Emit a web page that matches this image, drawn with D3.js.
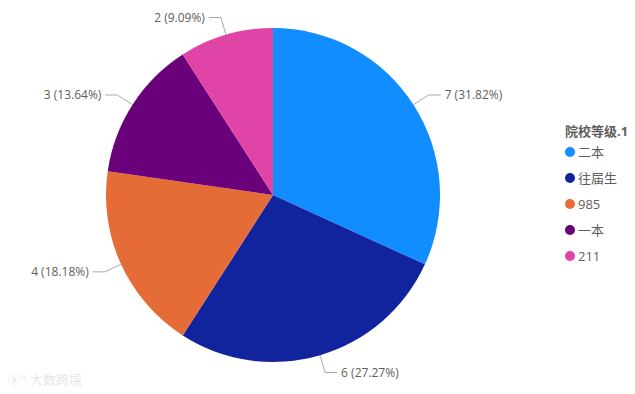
<!DOCTYPE html>
<html>
<head>
<meta charset="utf-8">
<script src="https://cdn.jsdelivr.net/npm/d3@7"></script>
<style>
  body { margin: 0; background: #fff; }
  svg { display: block; font-family: "Segoe UI", "Open Sans", "Noto Sans CJK SC", sans-serif; }
</style>
</head>
<body>
<div id="chart"></div>
<script>
// data
const categories = ["二本", "往届生", "985", "一本", "211"];
const counts = [7, 6, 4, 3, 2];
const colors = ["#118DFF", "#12239E", "#E66C37", "#6B007B", "#E044A7"];
const legendTitle = "院校等级.1";

const width = 635, height = 394;
const cx = 273, cy = 195, radius = 167;

const svg = d3.select("#chart").append("svg")
  .attr("width", width)
  .attr("height", height);

const total = d3.sum(counts);
const rows = categories.map((c, i) => ({name: c, value: counts[i], color: colors[i]}));

const pie = d3.pie().value(d => d.value).sort(null);
const arc = d3.arc().innerRadius(0).outerRadius(radius);
const arcs = pie(rows);

const g = svg.append("g").attr("transform", "translate(" + cx + "," + cy + ")");

g.selectAll("path.slice")
  .data(arcs)
  .enter().append("path")
  .attr("class", "slice")
  .attr("d", arc)
  .attr("fill", d => d.data.color);

// leader lines + labels
function pointAt(a, r) {
  return [Math.sin(a) * r, -Math.cos(a) * r];
}

const labels = g.selectAll("g.lbl").data(arcs).enter().append("g").attr("class", "lbl");

labels.each(function(d) {
  let mid = (d.startAngle + d.endAngle) / 2;
  let p0 = pointAt(mid, radius);
  let p1 = pointAt(mid, radius + 18);
  let right = Math.sin(mid) >= 0;
  let p2 = [p1[0] + (right ? 12 : -12), p1[1]];
  let sel = d3.select(this);
  sel.append("polyline")
    .attr("points", [p0, p1, p2].map(p => p.join(",")).join(" "))
    .attr("fill", "none")
    .attr("stroke", "#a8a8a8")
    .attr("stroke-width", 1);
  let pct = (d.data.value / total * 100).toFixed(2);
  sel.append("text")
    .attr("x", p2[0] + (right ? 4 : -4))
    .attr("y", p2[1])
    .attr("dy", "0.35em")
    .attr("text-anchor", right ? "start" : "end")
    .attr("fill", "#605E5C")
    .style("font-size", "12px")
    .text(d.data.value + " (" + pct + "%)");
});

// legend
const legend = svg.append("g").attr("transform", "translate(565,131)");
legend.append("text")
  .attr("x", 0).attr("y", 0)
  .attr("dy", "0.35em")
  .attr("fill", "#605E5C")
  .style("font-size", "13px")
  .style("font-weight", "bold")
  .text(legendTitle);

const item = legend.selectAll("g.item").data(rows).enter().append("g")
  .attr("class", "item")
  .attr("transform", (d, i) => "translate(0," + (21 + i * 26) + ")");
item.append("circle").attr("cx", 5).attr("cy", 0).attr("r", 5).attr("fill", d => d.color);
item.append("text")
  .attr("x", 13).attr("y", 0).attr("dy", "0.35em")
  .attr("fill", "#605E5C")
  .style("font-size", "13px")
  .text(d => d.name);

// faint watermark
svg.append("text")
  .attr("x", 8).attr("y", 384)
  .attr("fill", "#e6e6e6")
  .style("font-size", "13px")
  .text("ⓚ° 大数跨境");
</script>
</body>
</html>
